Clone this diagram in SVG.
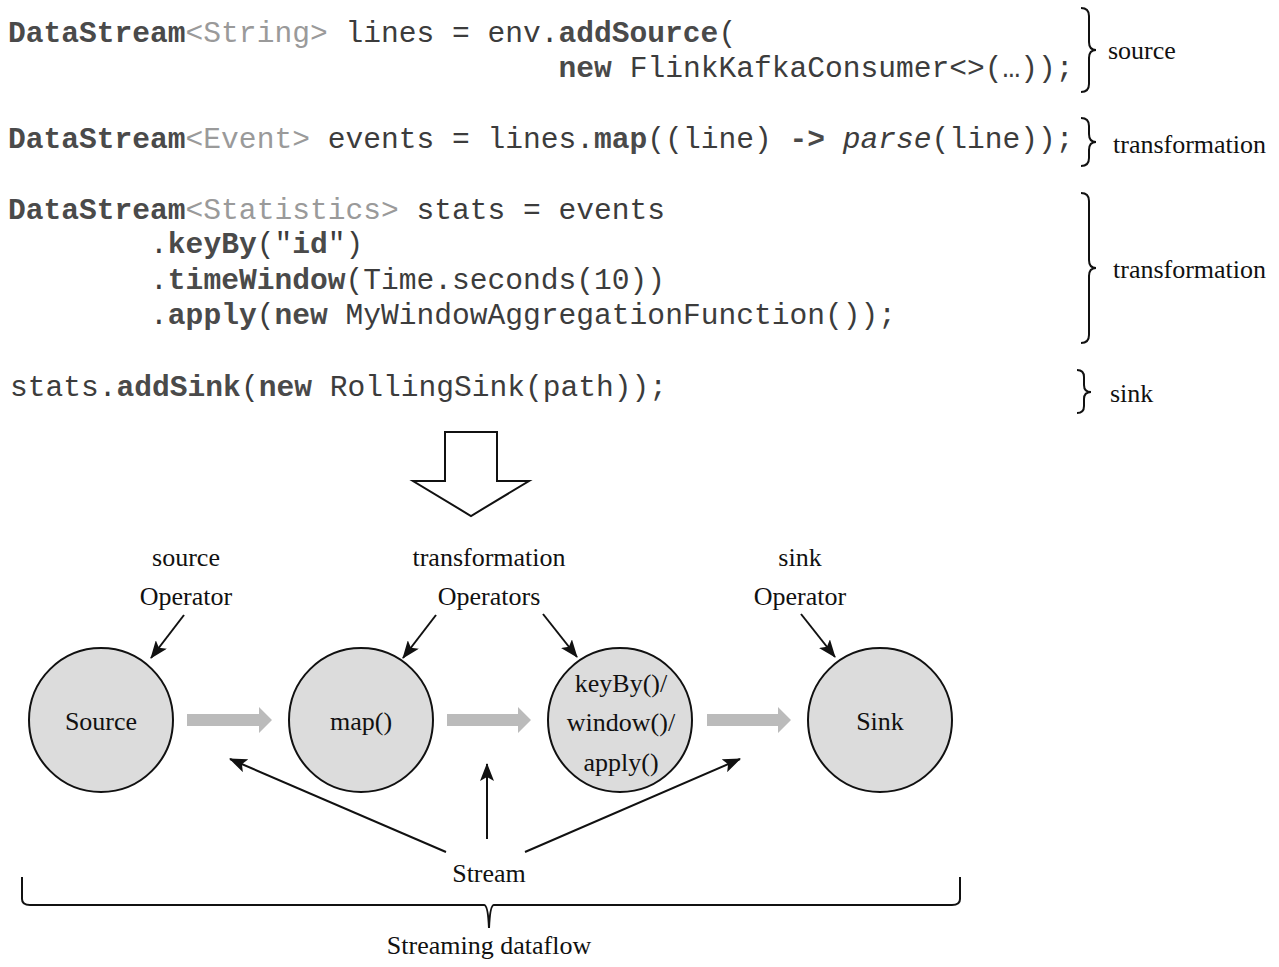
<svg xmlns="http://www.w3.org/2000/svg" width="1279" height="967" viewBox="0 0 1279 967">
  <style>
    .code { font-family: "Liberation Mono", "Courier New", monospace; font-size: 29.6px; fill: #3c3c3c; }
    .b { font-weight: bold; fill: #4a4a4a; }
    .t { fill: #9a9a9a; }
    .i { font-style: italic; }
    .lbl { font-family: "Liberation Serif", "Times New Roman", serif; font-size: 26px; fill: #111; }
    .mid { text-anchor: middle; }
    .brace { fill: none; stroke: #111; stroke-width: 2; }
    .node { fill: #dcdcdc; stroke: #111; stroke-width: 2; }
    .flow { fill: #bbbbbb; stroke: none; }
    .link { fill: none; stroke: #111; stroke-width: 2; }
  </style>
  <defs>
    <marker id="head" markerUnits="userSpaceOnUse" markerWidth="18" markerHeight="14" viewBox="0 0 18 14" refX="17" refY="7" orient="auto">
      <path d="M0,0 L18,7 L0,14 L4,7 z" fill="#111"/>
    </marker>
  </defs>

  <rect width="1279" height="967" fill="#ffffff"/>

  <!-- program source; continuation lines are indented by column (17.76px per column) -->
  <g id="code" class="code">
    <text x="8" y="42"><tspan class="b">DataStream</tspan><tspan class="t">&lt;String&gt;</tspan> lines = env.<tspan class="b">addSource</tspan>(</text>
    <text x="558.6" y="77"><tspan class="b">new</tspan> FlinkKafkaConsumer&lt;&gt;(…));</text>
    <text x="8" y="148"><tspan class="b">DataStream</tspan><tspan class="t">&lt;Event&gt;</tspan> events = lines.<tspan class="b">map</tspan>((line) <tspan class="b">-&gt;</tspan> <tspan class="i">parse</tspan>(line));</text>
    <text x="8" y="219"><tspan class="b">DataStream</tspan><tspan class="t">&lt;Statistics&gt;</tspan> stats = events</text>
    <text x="150.1" y="253">.<tspan class="b">keyBy</tspan>("<tspan class="b">id</tspan>")</text>
    <text x="150.1" y="289">.<tspan class="b">timeWindow</tspan>(Time.seconds(10))</text>
    <text x="150.1" y="324">.<tspan class="b">apply</tspan>(<tspan class="b">new</tspan> MyWindowAggregationFunction());</text>
    <text x="10" y="396">stats.<tspan class="b">addSink</tspan>(<tspan class="b">new</tspan> RollingSink(path));</text>
  </g>

  <!-- right-hand braces with role labels -->
  <g id="brace-source">
    <path class="brace" d="M1081,8 Q1089,8 1089,16 L1089,42 Q1089,50 1096,50 Q1089,50 1089,58 L1089,84 Q1089,92 1081,92"/>
    <text class="lbl" x="1108" y="59">source</text>
  </g>
  <g id="brace-map">
    <path class="brace" d="M1081,118 Q1089,118 1089,126 L1089,134 Q1089,142 1096,142 Q1089,142 1089,150 L1089,158 Q1089,166 1081,166"/>
    <text class="lbl" x="1113" y="153">transformation</text>
  </g>
  <g id="brace-window">
    <path class="brace" d="M1081,193 Q1089,193 1089,201 L1089,260 Q1089,268 1096,268 Q1089,268 1089,276 L1089,335 Q1089,343 1081,343"/>
    <text class="lbl" x="1113" y="278">transformation</text>
  </g>
  <g id="brace-sink">
    <path class="brace" d="M1077,370 Q1084,370 1084,377 L1084,385 Q1084,392 1091,392 Q1084,392 1084,399 L1084,406 Q1084,413 1077,413"/>
    <text class="lbl" x="1110" y="402">sink</text>
  </g>

  <!-- translation arrow -->
  <g id="translate-arrow">
    <path d="M445,432 L497,432 L497,481 L529,481 L471,516 L413,481 L445,481 Z" fill="#fff" stroke="#111" stroke-width="2" stroke-linejoin="miter"/>
  </g>

  <!-- operator captions -->
  <g id="caption-source">
    <text class="lbl mid" x="186" y="566">source</text>
    <text class="lbl mid" x="186" y="605">Operator</text>
  </g>
  <g id="caption-transformation">
    <text class="lbl mid" x="489" y="566">transformation</text>
    <text class="lbl mid" x="489" y="605">Operators</text>
  </g>
  <g id="caption-sink">
    <text class="lbl mid" x="800" y="566">sink</text>
    <text class="lbl mid" x="800" y="605">Operator</text>
  </g>

  <!-- operators -->
  <g id="node-source">
    <circle class="node" cx="101" cy="720" r="72"/>
    <text class="lbl mid" x="101" y="730">Source</text>
  </g>
  <g id="node-map">
    <circle class="node" cx="361" cy="720" r="72"/>
    <text class="lbl mid" x="361" y="730">map()</text>
  </g>
  <g id="node-window">
    <circle class="node" cx="620" cy="720" r="72"/>
    <text class="lbl mid" x="621" y="692">keyBy()/</text>
    <text class="lbl mid" x="621" y="731">window()/</text>
    <text class="lbl mid" x="621" y="771">apply()</text>
  </g>
  <g id="node-sink">
    <circle class="node" cx="880" cy="720" r="72"/>
    <text class="lbl mid" x="880" y="730">Sink</text>
  </g>

  <!-- stream labels -->
  <g id="label-stream">
    <text class="lbl mid" x="489" y="882">Stream</text>
  </g>
  <g id="label-dataflow">
    <path class="brace" d="M22,877 L22,899 Q22,905 30,905 L484,905 Q488,905 489,928 Q490,905 494,905 L952,905 Q960,905 960,899 L960,877"/>
    <text class="lbl mid" x="489" y="954">Streaming dataflow</text>
  </g>

  <!-- connectors -->
  <g id="connectors">
    <!-- data flow between operators -->
    <path class="flow" d="M187,714 L259,714 L259,707 L272,720 L259,733 L259,726 L187,726 Z"/>
    <path class="flow" d="M447,714 L518,714 L518,707 L531,720 L518,733 L518,726 L447,726 Z"/>
    <path class="flow" d="M707,714 L778,714 L778,707 L791,720 L778,733 L778,726 L707,726 Z"/>
    <!-- caption pointers -->
    <line class="link" x1="184" y1="615" x2="151" y2="658" marker-end="url(#head)"/>
    <line class="link" x1="436" y1="615" x2="403" y2="658" marker-end="url(#head)"/>
    <line class="link" x1="543" y1="614" x2="577" y2="657" marker-end="url(#head)"/>
    <line class="link" x1="801" y1="614" x2="835" y2="657" marker-end="url(#head)"/>
    <!-- stream pointers -->
    <line class="link" x1="446" y1="852" x2="230" y2="759" marker-end="url(#head)"/>
    <line class="link" x1="487" y1="839" x2="487" y2="764" marker-end="url(#head)"/>
    <line class="link" x1="525" y1="852" x2="740" y2="759" marker-end="url(#head)"/>
  </g>
</svg>
